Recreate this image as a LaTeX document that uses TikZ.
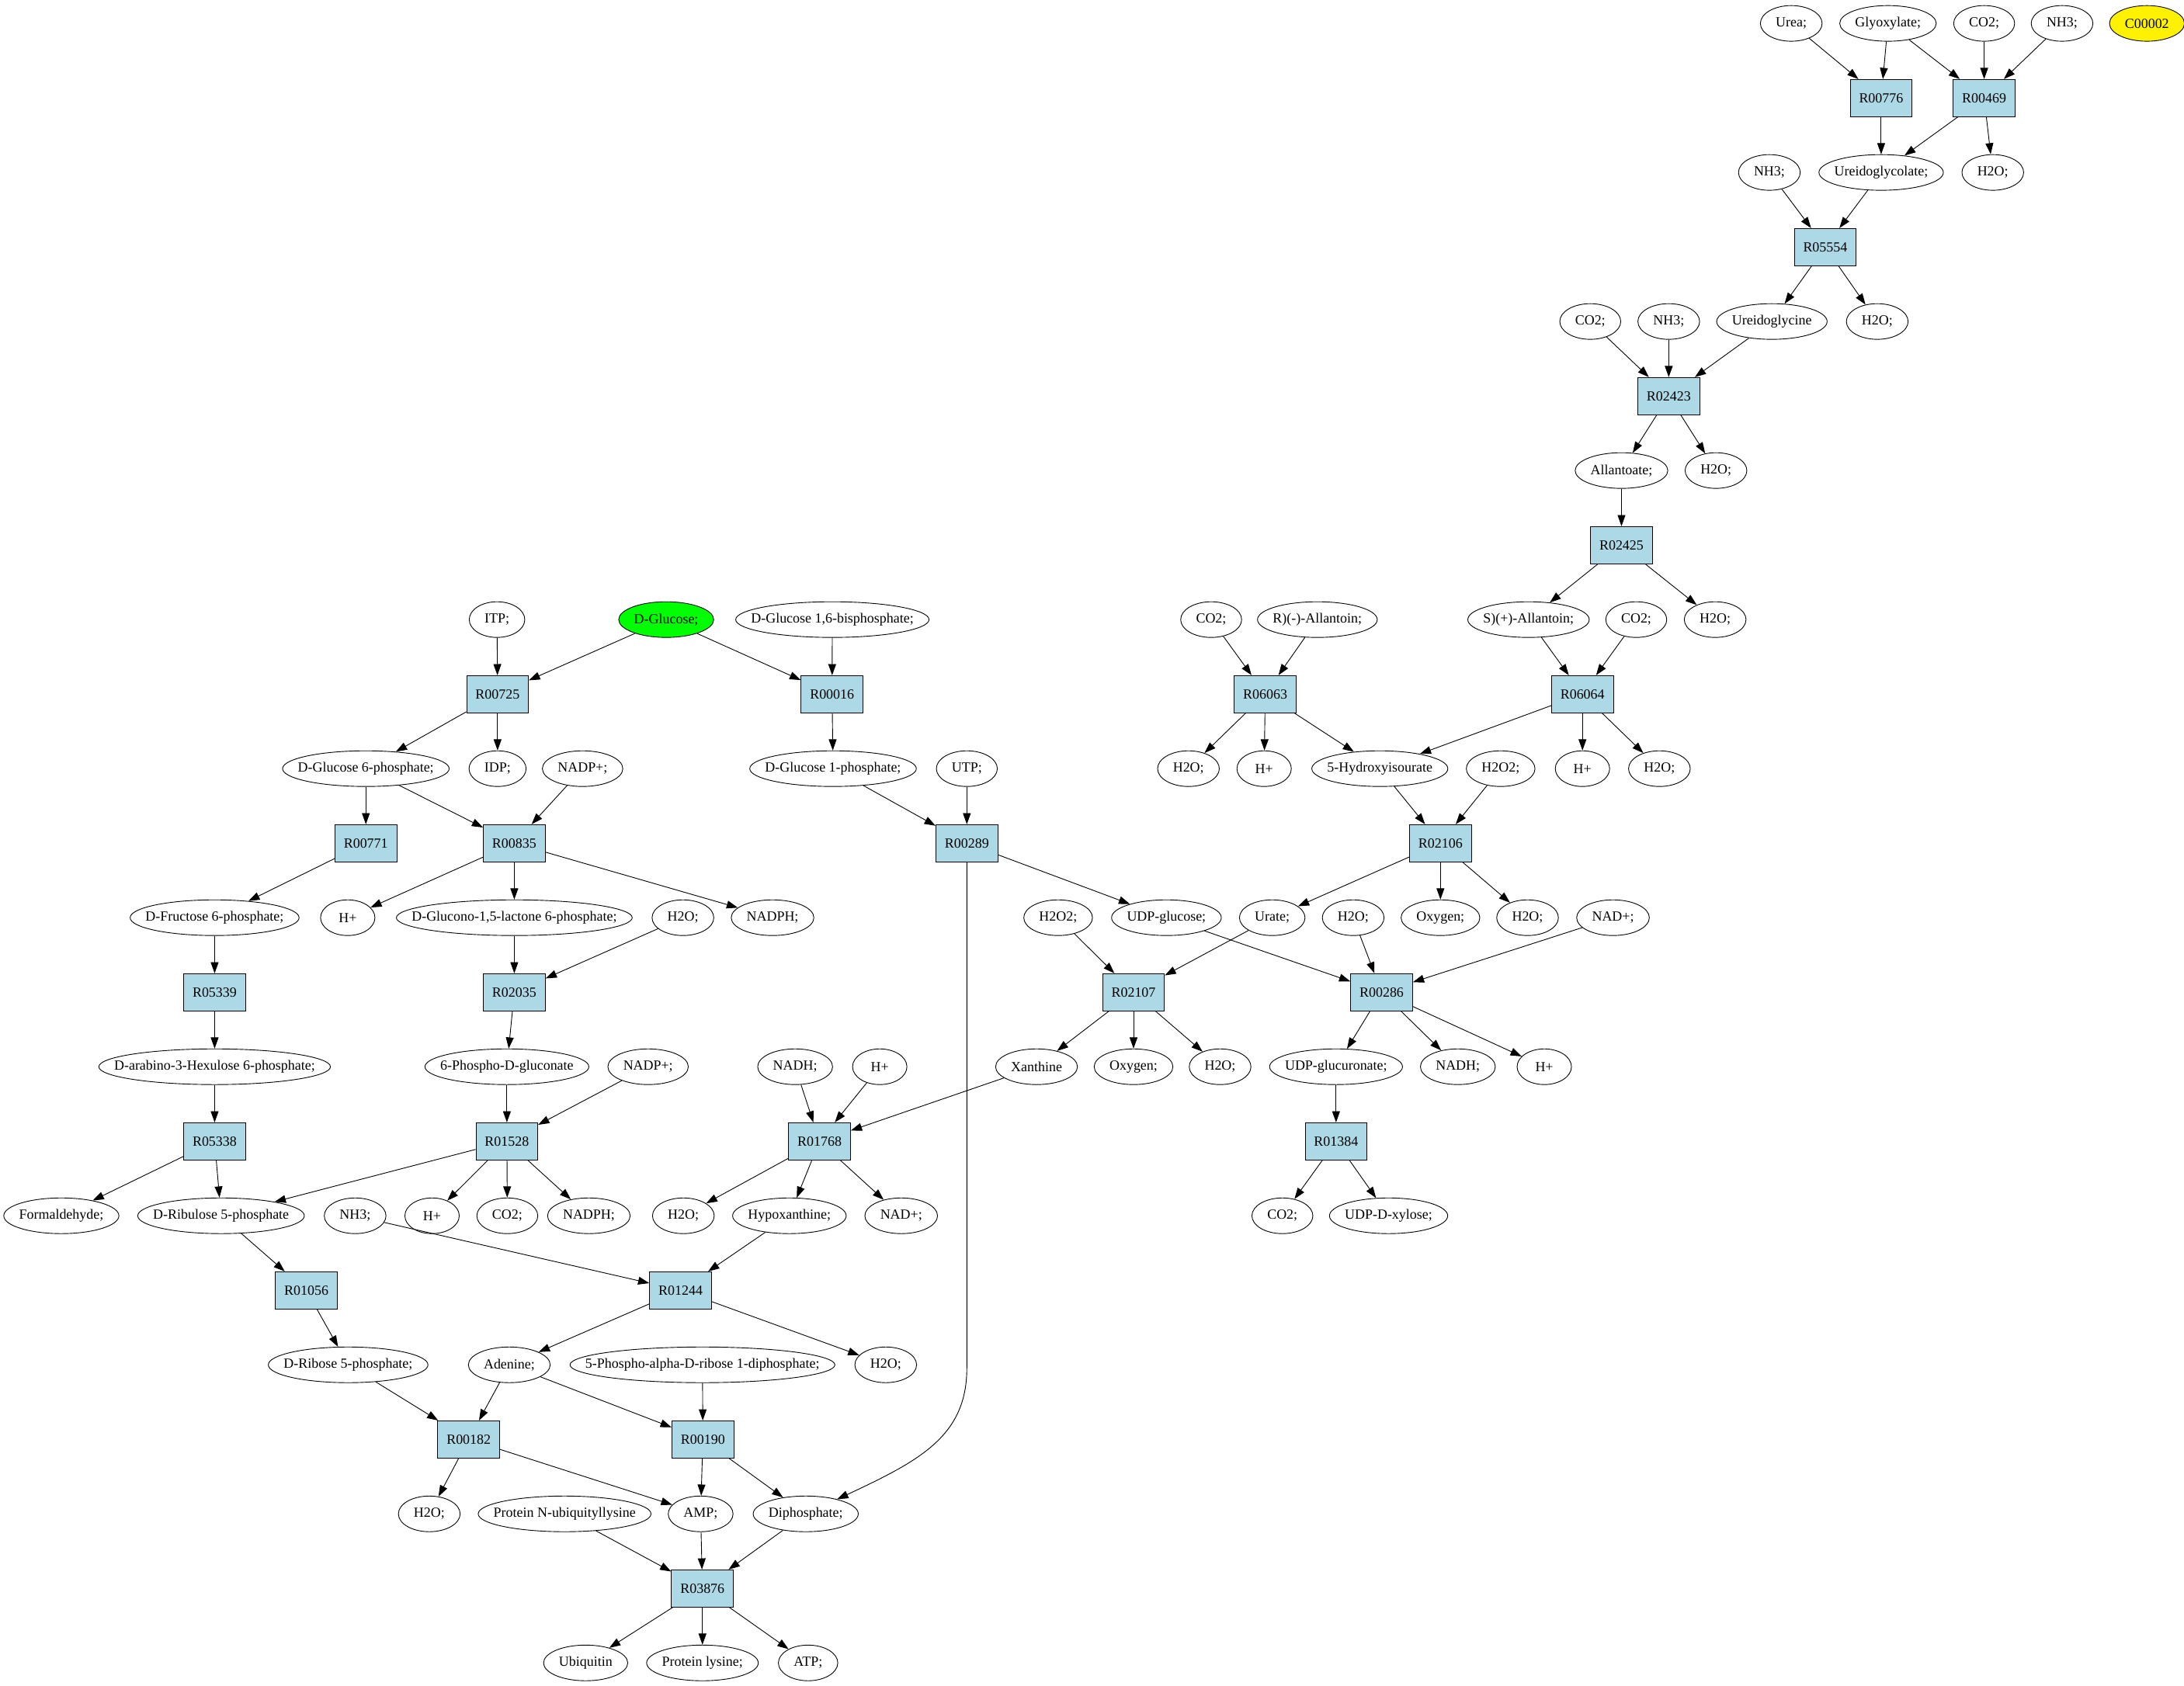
\documentclass[tikz,border=0pt]{standalone}
\usepackage{fontspec}
\setmainfont{Liberation Serif}
\usetikzlibrary{shapes.geometric, arrows.meta}
\definecolor{rxnblue}{HTML}{ADD8E6}
\newsavebox{\cpdbox}

\begin{document}
\begin{tikzpicture} [x=1pt, y=-53.48pt, line width=0.5pt, font=\fontsize{10}{12}\selectfont,
        >={Triangle[length=8pt, width=5.6pt]},
        cpd/.style={ellipse, draw, inner xsep=7.8pt, inner ysep=0pt, minimum width=39pt, minimum height=25.6pt,
            execute at begin node={\begin{lrbox}{\cpdbox}},
            execute at end node={\end{lrbox}\makebox[0.7071\wd\cpdbox]{\usebox{\cpdbox}}}},
        rxn/.style={rectangle, draw, fill=rxnblue, minimum width=44.4pt, minimum height=26.6pt, inner sep=1pt}]
        \useasboundingbox (0,0.686) rectangle (1567,23.30);

        \node (urea) [cpd] at (1285.2,1) {Urea;};
        \node (glyox) [cpd] at (1354.6,1) {Glyoxylate;};
        \node (co2a) [cpd] at (1423.6,1) {CO2;};
        \node (nh3a) [cpd] at (1479.5,1) {NH3;};
        \node (c00002) [cpd, fill=yellow] at (1540.4,1) {C00002};
        \node (r00776) [rxn] at (1349.7,2) {R00776};
        \node (r00469) [rxn] at (1423.6,2) {R00469};
        \node (nh3b) [cpd] at (1269.5,3) {NH3;};
        \node (uglycolate) [cpd] at (1349.7,3) {Ureidoglycolate;};
        \node (h2oa) [cpd] at (1429.8,3) {H2O;};
        \node (r05554) [rxn] at (1309.6,4) {R05554};
        \node (co2b) [cpd] at (1141,5) {CO2;};
        \node (nh3c) [cpd] at (1197.3,5) {NH3;};
        \node (uglycine) [cpd] at (1271.3,5) {Ureidoglycine};
        \node (h2ob) [cpd] at (1346.9,5) {H2O;};
        \node (r02423) [rxn] at (1197.3,6) {R02423};
        \node (allantoate) [cpd] at (1163.4,7) {Allantoate;};
        \node (h2oc) [cpd] at (1231.2,7) {H2O;};
        \node (r02425) [rxn] at (1163.4,8) {R02425};

        \node (itp) [cpd] at (356.6,9) {ITP;};
        \node (glc) [cpd, fill=green] at (478,9) {D-Glucose;};
        \node (glc16bp) [cpd] at (597.2,9) {D-Glucose 1,6-bisphosphate;};
        \node (co2c) [cpd] at (869,9) {CO2;};
        \node (rallantoin) [cpd] at (945.2,9) {R)(-)-Allantoin;};
        \node (sallantoin) [cpd] at (1096.7,9) {S)(+)-Allantoin;};
        \node (co2d) [cpd] at (1174,9) {CO2;};
        \node (h2od) [cpd] at (1230.6,9) {H2O;};
        \node (r00725) [rxn] at (357,10) {R00725};
        \node (r00016) [rxn] at (597,10) {R00016};
        \node (r06063) [rxn] at (907.8,10) {R06063};
        \node (r06064) [rxn] at (1135.4,10) {R06064};
        \node (g6p) [cpd] at (262.5,11) {D-Glucose 6-phosphate;};
        \node (idp) [cpd] at (357,11) {IDP;};
        \node (nadpa) [cpd] at (418,11) {NADP+;};
        \node (g1p) [cpd] at (597.7,11) {D-Glucose 1-phosphate;};
        \node (utp) [cpd] at (693.7,11) {UTP;};
        \node (h2oe) [cpd] at (852.7,11) {H2O;};
        \node (hpa) [cpd] at (907,11) {H+};
        \node (hiu) [cpd] at (990,11) {5-Hydroxyisourate};
        \node (h2o2a) [cpd] at (1076.7,11) {H2O2;};
        \node (hpb) [cpd] at (1135.4,11) {H+};
        \node (h2of) [cpd] at (1190.6,11) {H2O;};
        \node (r00771) [rxn] at (262.5,12) {R00771};
        \node (r00835) [rxn] at (369,12) {R00835};
        \node (r00289) [rxn] at (693.7,12) {R00289};
        \node (r02106) [rxn] at (1033.5,12) {R02106};
        \node (f6p) [cpd] at (154,13) {D-Fructose 6-phosphate;};
        \node (hpc) [cpd] at (249.5,13) {H+};
        \node (glucono) [cpd] at (369,13) {D-Glucono-1,5-lactone 6-phosphate;};
        \node (h2og) [cpd] at (490,13) {H2O;};
        \node (nadpha) [cpd] at (554.3,13) {NADPH;};
        \node (h2o2b) [cpd] at (759.2,13) {H2O2;};
        \node (udpglc) [cpd] at (836.9,13) {UDP-glucose;};
        \node (urate) [cpd] at (912.8,13) {Urate;};
        \node (h2oh) [cpd] at (970.9,13) {H2O;};
        \node (oxya) [cpd] at (1033.5,13) {Oxygen;};
        \node (h2oi) [cpd] at (1096,13) {H2O;};
        \node (nada) [cpd] at (1157.3,13) {NAD+;};
        \node (r05339) [rxn] at (154,14) {R05339};
        \node (r02035) [rxn] at (369,14) {R02035};
        \node (r02107) [rxn] at (813.3,14) {R02107};
        \node (r00286) [rxn] at (991.3,14) {R00286};
        \node (hexulose) [cpd] at (154,15) {D-arabino-3-Hexulose 6-phosphate;};
        \node (pgluconate) [cpd] at (363.7,15) {6-Phospho-D-gluconate};
        \node (nadpb) [cpd] at (465,15) {NADP+;};
        \node (nadha) [cpd] at (570.5,15) {NADH;};
        \node (hpd) [cpd] at (631.2,15) {H+};
        \node (xanthine) [cpd] at (743.7,15) {Xanthine};
        \node (oxyb) [cpd] at (813.3,15) {Oxygen;};
        \node (h2oj) [cpd] at (875.4,15) {H2O;};
        \node (udpglcua) [cpd] at (958.6,15) {UDP-glucuronate;};
        \node (nadhb) [cpd] at (1046,15) {NADH;};
        \node (hpe) [cpd] at (1108,15) {H+};
        \node (r05338) [rxn] at (154,16) {R05338};
        \node (r01528) [rxn] at (363.7,16) {R01528};
        \node (r01768) [rxn] at (588,16) {R01768};
        \node (r01384) [rxn] at (958.6,16) {R01384};
        \node (formald) [cpd] at (44,17) {Formaldehyde;};
        \node (ribulose) [cpd] at (158.6,17) {D-Ribulose 5-phosphate};
        \node (nh3d) [cpd] at (254.8,17) {NH3;};
        \node (hpf) [cpd] at (310,17) {H+};
        \node (co2e) [cpd] at (364,17) {CO2;};
        \node (nadphb) [cpd] at (422.5,17) {NADPH;};
        \node (h2ok) [cpd] at (490.3,17) {H2O;};
        \node (hypox) [cpd] at (566.4,17) {Hypoxanthine;};
        \node (nadb) [cpd] at (646.6,17) {NAD+;};
        \node (co2f) [cpd] at (920.1,17) {CO2;};
        \node (udpxyl) [cpd] at (996.3,17) {UDP-D-xylose;};
        \node (r01056) [rxn] at (219.8,18) {R01056};
        \node (r01244) [rxn] at (488.3,18) {R01244};
        \node (ribose) [cpd] at (249.8,19) {D-Ribose 5-phosphate;};
        \node (adenine) [cpd] at (365.4,19) {Adenine;};
        \node (prpp) [cpd] at (504,19) {5-Phospho-alpha-D-ribose 1-diphosphate;};
        \node (h2ol) [cpd] at (635.5,19) {H2O;};
        \node (r00182) [rxn] at (336.3,20) {R00182};
        \node (r00190) [rxn] at (504.3,20) {R00190};
        \node (h2om) [cpd] at (308,21) {H2O;};
        \node (ubqlys) [cpd] at (405.1,21) {Protein N-ubiquityllysine};
        \node (amp) [cpd] at (502.7,21) {AMP;};
        \node (dipho) [cpd] at (578.1,21) {Diphosphate;};
        \node (r03876) [rxn] at (504,22) {R03876};
        \node (ubiquitin) [cpd] at (420.2,23) {Ubiquitin};
        \node (protlys) [cpd] at (504,23) {Protein lysine;};
        \node (atp) [cpd] at (579.8,23) {ATP;};

        \path [->] (urea) edge (r00776) (glyox) edge (r00776) (r00776) edge (uglycolate);
        \path [->] (glyox) edge (r00469) (co2a) edge (r00469) (nh3a) edge (r00469)
            (r00469) edge (uglycolate) (r00469) edge (h2oa);
        \path [->] (nh3b) edge (r05554) (uglycolate) edge (r05554) (r05554) edge (uglycine) (r05554) edge (h2ob);
        \path [->] (co2b) edge (r02423) (nh3c) edge (r02423) (uglycine) edge (r02423)
            (r02423) edge (allantoate) (r02423) edge (h2oc);
        \path [->] (allantoate) edge (r02425) (r02425) edge (sallantoin) (r02425) edge (h2od);
        \path [->] (sallantoin) edge (r06064) (co2d) edge (r06064)
            (r06064) edge (hiu) (r06064) edge (hpb) (r06064) edge (h2of);
        \path [->] (co2c) edge (r06063) (rallantoin) edge (r06063)
            (r06063) edge (h2oe) (r06063) edge (hpa) (r06063) edge (hiu);
        \path [->] (hiu) edge (r02106) (h2o2a) edge (r02106)
            (r02106) edge (urate) (r02106) edge (oxya) (r02106) edge (h2oi);
        \path [->] (h2o2b) edge (r02107) (urate) edge (r02107)
            (r02107) edge (xanthine) (r02107) edge (oxyb) (r02107) edge (h2oj);
        \path [->] (udpglc) edge (r00286) (h2oh) edge (r00286) (nada) edge (r00286)
            (r00286) edge (udpglcua) (r00286) edge (nadhb) (r00286) edge (hpe);
        \path [->] (udpglcua) edge (r01384) (r01384) edge (co2f) (r01384) edge (udpxyl);

        \path [->] (itp) edge (r00725) (glc) edge (r00725) (r00725) edge (g6p) (r00725) edge (idp);
        \path [->] (glc) edge (r00016) (glc16bp) edge (r00016) (r00016) edge (g1p);
        \path [->] (g1p) edge (r00289) (utp) edge (r00289) (r00289) edge (udpglc);
        \draw [->] (r00289) -- (693.7,19.04) .. controls (693.7,19.95) and (660.7,20.28) .. (dipho);
        \path [->] (g6p) edge (r00771) (r00771) edge (f6p);
        \path [->] (g6p) edge (r00835) (nadpa) edge (r00835)
            (r00835) edge (hpc) (r00835) edge (glucono) (r00835) edge (nadpha);
        \path [->] (glucono) edge (r02035) (h2og) edge (r02035) (r02035) edge (pgluconate);
        \path [->] (pgluconate) edge (r01528) (nadpb) edge (r01528)
            (r01528) edge (ribulose) (r01528) edge (hpf) (r01528) edge (co2e) (r01528) edge (nadphb);
        \path [->] (f6p) edge (r05339) (r05339) edge (hexulose);
        \path [->] (hexulose) edge (r05338) (r05338) edge (formald) (r05338) edge (ribulose);
        \path [->] (ribulose) edge (r01056) (r01056) edge (ribose);
        \path [->] (nadha) edge (r01768) (hpd) edge (r01768) (xanthine) edge (r01768)
            (r01768) edge (h2ok) (r01768) edge (hypox) (r01768) edge (nadb);
        \path [->] (nh3d) edge (r01244) (hypox) edge (r01244) (r01244) edge (adenine) (r01244) edge (h2ol);
        \path [->] (ribose) edge (r00182) (adenine) edge (r00182) (r00182) edge (h2om) (r00182) edge (amp);
        \path [->] (adenine) edge (r00190) (prpp) edge (r00190) (r00190) edge (amp) (r00190) edge (dipho);
        \path [->] (ubqlys) edge (r03876) (amp) edge (r03876) (dipho) edge (r03876)
            (r03876) edge (ubiquitin) (r03876) edge (protlys) (r03876) edge (atp);
    \end{tikzpicture}
\end{document}
